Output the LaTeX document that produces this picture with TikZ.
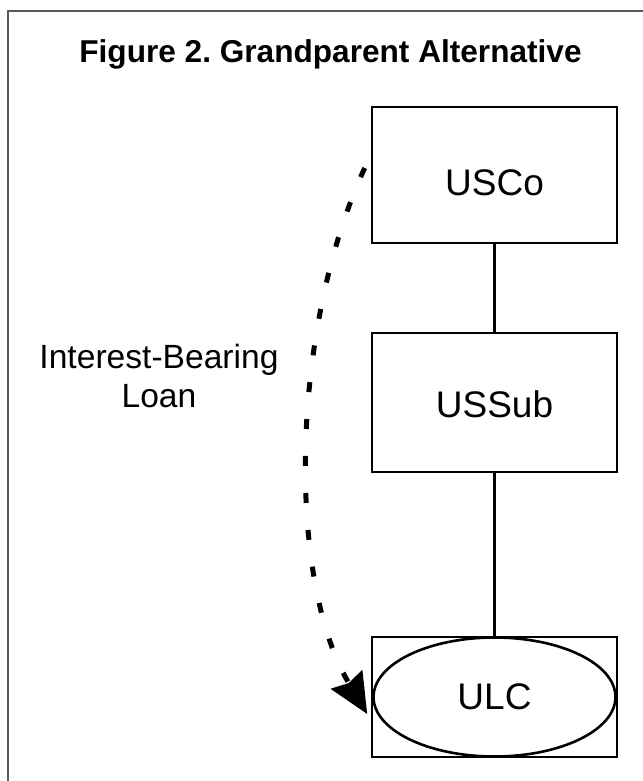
\documentclass[tikz,border=0pt]{standalone}
\usepackage{fontspec}
\setmainfont{Liberation Sans}
\usetikzlibrary{calc, arrows.meta, positioning, shapes.geometric}

\tikzset{
    entity/.style={draw, line width=2.6pt, minimum width=245pt, font=\fontsize{37}{41}\selectfont},
    link/.style={line width=2.4pt},
    loan/.style={line width=5pt, dash pattern=on 10pt off 27pt, -{Stealth[length=40pt, width=36pt, inset=4pt]}}
}

\begin{document}
\frenchspacing
\begin{tikzpicture}[x=1pt, y=-1pt]
    \useasboundingbox (0,0) rectangle (642,781);

    % Frame
    \draw[line width=2pt, color=black!65] (8,790) -- (8,11) -- (650,11);

    % Title
    \node[font=\bfseries\fontsize{31.6}{36}\selectfont, anchor=base] (title) at (330.5,63) {Figure 2. Grandparent Alternative};

    % Entities
    \node[entity, minimum height=136pt, text height=41pt] (usco) at (494.5,175) {USCo};
    \node[entity, minimum height=139pt, text height=31pt] (ussub) at (494.5,402.5) {USSub};
    \node[entity, minimum height=120pt] (ulcbox) at (494.5,697) {};
    \node[draw, ellipse, line width=2.6pt, minimum width=242pt, minimum height=119pt, inner sep=0pt,
          font=\fontsize{37}{41}\selectfont] (ulc) at (ulcbox.center) {ULC};

    % Ownership Links
    \draw[link] (usco.south) -- (ussub.north);
    \draw[link] (ussub.south) -- (ulcbox.north);

    % Loan
    \coordinate (start) at ($(usco.west)+(-6,-7)$);
    \coordinate (finish) at ($(ulc.west)+(-5,17)$);
    \draw[loan] (start) .. controls (291,328) and (286,578) .. (finish);
    \node[font=\fontsize{33.6}{39}\selectfont, align=center, anchor=base] (label) at (159,407) {Interest-Bearing\\Loan};
\end{tikzpicture}
\end{document}
